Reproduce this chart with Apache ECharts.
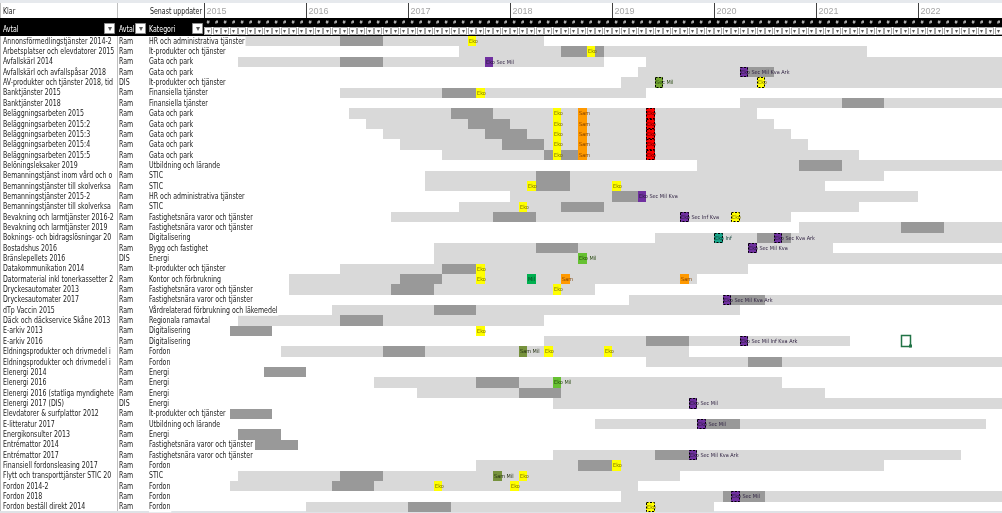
<!DOCTYPE html>
<html><head><meta charset="utf-8">
<script src="https://cdn.jsdelivr.net/npm/echarts@6/dist/echarts.min.js"></script>
<style>html,body{margin:0;padding:0;background:#fff;overflow:hidden}#c{width:1002px;height:513px}</style>
</head><body><div id="c"></div>
<script>
// ---------- table columns ----------
const avtal = [
'Annonsförmedlingstjänster 2014-2','Arbetsplatser och elevdatorer 2015','Avfallskärl 2014','Avfallskärl och avfallspåsar 2018',
'AV-produkter och tjänster 2018, tid','Banktjänster 2015','Banktjänster 2018','Beläggningsarbeten 2015','Beläggningsarbeten 2015:2',
'Beläggningsarbeten 2015:3','Beläggningsarbeten 2015:4','Beläggningsarbeten 2015:5','Belöningsleksaker 2019',
'Bemanningstjänst inom vård och omsorg','Bemanningstjänster till skolverksamhet','Bemanningstjänster 2015-2',
'Bemanningstjänster till skolverksamhet','Bevakning och larmtjänster 2016-2','Bevakning och larmtjänster 2019',
'Boknings- och bidragslösningar 2019','Bostadshus 2016','Bränslepellets 2016','Datakommunikation 2014',
'Datormaterial inkl tonerkassetter 2014','Dryckesautomater 2013','Dryckesautomater 2017','dTp Vaccin 2015',
'Däck och däckservice Skåne 2013','E-arkiv 2013','E-arkiv 2016','Eldningsprodukter och drivmedel i bulk',
'Eldningsprodukter och drivmedel i bulk','Elenergi 2014','Elenergi 2016','Elenergi 2016 (statliga myndigheter)',
'Elenergi 2017 (DIS)','Elevdatorer & surfplattor 2012','E-litteratur 2017','Energikonsulter 2013','Entrémattor 2014',
'Entrémattor 2017','Finansiell fordonsleasing 2017','Flytt och transporttjänster STIC 2014','Fordon 2014-2','Fordon 2018',
'Fordon beställ direkt 2014'];
const avtalstyp = ['Ram','Ram','Ram','Ram','DIS','Ram','Ram','Ram','Ram','Ram','Ram','Ram','Ram','Ram','Ram','Ram','Ram','Ram',
'Ram','Ram','Ram','DIS','Ram','Ram','Ram','Ram','Ram','Ram','Ram','Ram','Ram','Ram','Ram','Ram','Ram','DIS','Ram','Ram','Ram',
'Ram','Ram','Ram','Ram','Ram','Ram','Ram'];
const kategori = ['HR och administrativa tjänster','It-produkter och tjänster','Gata och park','Gata och park',
'It-produkter och tjänster','Finansiella tjänster','Finansiella tjänster','Gata och park','Gata och park','Gata och park',
'Gata och park','Gata och park','Utbildning och lärande','STIC','STIC','HR och administrativa tjänster','STIC',
'Fastighetsnära varor och tjänster','Fastighetsnära varor och tjänster','Digitalisering','Bygg och fastighet','Energi',
'It-produkter och tjänster','Kontor och förbrukning','Fastighetsnära varor och tjänster','Fastighetsnära varor och tjänster',
'Vårdrelaterad förbrukning och läkemedel','Regionala ramavtal','Digitalisering','Digitalisering','Fordon','Fordon','Energi',
'Energi','Energi','Energi','It-produkter och tjänster','Utbildning och lärande','Energi','Fastighetsnära varor och tjänster',
'Fastighetsnära varor och tjänster','Fordon','STIC','Fordon','Fordon','Fordon'];
const years = ['2015','2016','2017','2018','2019','2020','2021','2022'];

// ---------- periods: [rowNo, startMonth, endMonth(exclusive)], months counted from Jan 2015 ----------
const lightBars = [
[1,4,40],[2,30,78],[3,4,47],[3,52,96],[4,51,96],[5,49,96],[6,16,52],[7,63,96],[8,17,65],[9,19,67],[10,21,69],[11,23,71],
[12,28,77],[13,58,96],[14,26,80],[15,26,73],[16,36,84],[17,30,77],[18,22,69],[19,70,96],[20,53,96],[21,27,74],[22,27,96],
[23,16,64],[24,10,58],[25,10,46],[26,50,96],[27,15,63],[28,4,40],[30,40,76],[31,9,57],[32,52,96],[34,20,68],[35,25,73],
[36,41,96],[38,46,92],[41,41,89],[42,32,80],[43,4,56],[44,3,51],[45,49,96],[46,12,60]];
const darkBars = [
[1,16,21],[2,42,47],[3,16,21],[4,64,67],[6,28,32],[7,75,80],[8,29,34],[9,31,36],[10,33,38],[11,35,40],[12,40,45],
[13,70,75],[14,39,43],[15,39,43],[16,48,51],[17,42,47],[18,34,39],[19,82,87],[20,65,69],[21,39,44],[23,28,32],[24,23,28],
[25,22,27],[26,62,66],[27,27,32],[28,16,21],[29,3,8],[30,52,57],[31,21,26],[32,64,68],[33,7,12],[34,32,37],[35,37,42],
[37,3,8],[38,59,63],[39,4,9],[40,6,11],[41,53,57],[42,44,48],[43,16,21],[44,15,20],[45,61,66],[46,24,29]];
// ---------- markers: [rowNo, month, kind, label, dashedBorder] ----------
const markers = [
[1,31,'Y','Eko',0],[2,45,'Y','Eko',0],[3,33,'P','Eko Sec Mil',0],[4,63,'P','Eko Sec Mil Kva Ark',1],
[5,53,'GB','Sec Mil',1],[5,65,'Y','Eko',1],[6,32,'Y','Eko',0],
[8,41,'Y','Eko',0],[8,44,'O','Sam',0],[8,52,'R','Eko',1],
[9,41,'Y','Eko',0],[9,44,'O','Sam',0],[9,52,'R','Eko',1],
[10,41,'Y','Eko',0],[10,44,'O','Sam',0],[10,52,'R','Eko',1],
[11,41,'Y','Eko',0],[11,44,'O','Sam',0],[11,52,'R','Eko',1],
[12,41,'Y','Eko',0],[12,44,'O','Sam',0],[12,52,'R','Eko',1],
[15,38,'Y','Eko',0],[15,48,'Y','Eko',0],[16,51,'P','Eko Sec Mil Kva',0],[17,37,'Y','Eko',0],
[18,56,'P','Eko Sec Inf Kva',1],[18,62,'Y','Eko',1],[20,60,'T','Eko Inf',1],[20,67,'P','Eko Sec Kva Ark',1],
[21,64,'P','Eko Sec Mil Kva',1],[22,44,'LG','Eko Mil',0],[23,32,'Y','Eko',0],
[24,32,'Y','Eko',0],[24,38,'G','Mil',0],[24,42,'O','Sam',0],[24,56,'O','Sam',0],[25,41,'Y','Eko',0],
[26,61,'P','Eko Sec Mil Kva Ark',1],[29,32,'Y','Eko',0],[30,63,'P','Eko Sec Mil Inf Kva Ark',1],[30,82,'SEL','',0],
[31,37,'OL','Sam Mil',0],[31,40,'Y','Eko',0],[31,47,'Y','Eko',0],[34,41,'LG','Eko Mil',0],
[36,57,'P','Eko Sec Mil',1],[38,58,'P','Eko Sec Mil',1],[41,57,'P','Eko Sec Mil Kva Ark',1],[42,48,'Y','Eko',0],
[43,34,'OL','Sam Mil',0],[43,37,'Y','Eko',0],[44,27,'Y','Eko',0],[44,36,'Y','Eko',0],
[45,62,'P','Eko Sec Mil',1],[46,52,'Y','Eko',1]];

// ---------- styling ----------
const FN = '"Liberation Sans Narrow","Arial Narrow","DejaVu Sans Condensed",sans-serif';
const FW = '"Liberation Sans",Arial,sans-serif';
const SX = 0.87; // horizontal squeeze of the table font
const kindFill = {Y:'#ffff00',O:'#ff9900',R:'#ff0000',P:'#7030a0',G:'#00b050',LG:'#66c132',GB:'#76a832',OL:'#76923c',T:'#1aa58a'};
const kindText = {Y:'#7f7400',O:'#7f3f00',R:'#600000',P:'#2b1d3d',G:'#0b3d20',LG:'#27480f',GB:'#27480f',OL:'#222e10',T:'#083f34'};
const GRID_L = 204, GRID_T = 36, GRID_H = 476, MONTH_PX = 8.5;
const VISIBLE_MONTHS = (1002 - GRID_L) / MONTH_PX;

function cellBox(api, s, e, row){
  const p0 = api.coord([s,row]), p1 = api.coord([e,row]);
  const h = api.size([0,1])[1];
  const y0 = Math.round(p0[1]-h/2), y1 = Math.round(p0[1]+h/2);
  const x0 = Math.round(p0[0]), x1 = Math.round(p1[0]);
  return {x0,x1,y0,y1};
}
function barRender(color){
  return function(params, api){
    const b = cellBox(api, api.value(1), api.value(2), api.value(0));
    return {type:'rect', shape:{x:b.x0,y:b.y0,width:b.x1-b.x0,height:b.y1-b.y0}, style:{fill:color}};
  };
}
function markerRender(params, api){
  const mk = markers[params.dataIndex];
  const kind = mk[2], label = mk[3], bord = mk[4];
  const m = api.value(1);
  const b = cellBox(api, m, m+1, api.value(0));
  const w = b.x1-b.x0, h = b.y1-b.y0;
  if (kind === 'SEL') {
    return {type:'group', children:[
      {type:'rect', shape:{x:b.x0+0.5,y:b.y0-0.5,width:w,height:h+1}, style:{fill:'none',stroke:'#217346',lineWidth:1.5}},
      {type:'rect', shape:{x:b.x1-1,y:b.y1-1.5,width:3,height:3}, style:{fill:'#217346'}}]};
  }
  const ch = [{type:'rect', shape:{x:b.x0,y:b.y0,width:w,height:h}, style:{fill:kindFill[kind]}}];
  if (bord) ch.push({type:'rect', shape:{x:b.x0+0.5,y:b.y0+0.5,width:w-1,height:h-1},
                     style:{fill:'none',stroke:'#000',lineWidth:1,lineDash:[2,1.5]}});
  if (label) ch.push({type:'text', x:b.x0+1, y:(b.y0+b.y1)/2+0.5,
                      style:{text:label, fill:kindText[kind], font:'5.5px '+FN, verticalAlign:'middle', align:'left'}});
  return {type:'group', children:ch};
}
function tableRender(params, api){
  const i = api.value(1);
  const y = api.coord([0,i])[1] + 0.5;
  const x = (px) => api.coord([px,i])[0];
  const st = {fill:'#1a1a1a', font:'8px '+FN, verticalAlign:'middle', align:'left'};
  return {type:'group', children:[
    {type:'text', x:x(3), y:y, scaleX:SX, style:Object.assign({}, st, {text:avtal[i], width:113/SX, overflow:'truncate', ellipsis:''})},
    {type:'text', x:x(119), y:y, scaleX:SX, style:Object.assign({}, st, {text:avtalstyp[i], width:27/SX, overflow:'truncate', ellipsis:''})},
    {type:'text', x:x(149), y:y, scaleX:SX, style:Object.assign({}, st, {text:kategori[i], backgroundColor:'#fff', padding:[1,1,1,0]})}
  ]};
}
function monthHeadRender(params, api){
  const m = api.value(0);
  const x0 = api.coord([m,0])[0], x1 = api.coord([m+1,0])[0];
  const cx = (x0+x1)/2;
  return {type:'group', children:[
    {type:'text', x:cx, y:22.5, style:{text:'#', fill:'#fff', font:'5px '+FW, align:'center', verticalAlign:'middle'}},
    {type:'rect', shape:{x:Math.round(x0)+0.5,y:27.5,width:7,height:7}, style:{fill:'#fff',stroke:'#a6a6a6',lineWidth:1}},
    {type:'text', x:cx, y:31.5, style:{text:'▾', fill:'#595959', font:'6px '+FW, align:'center', verticalAlign:'middle'}}
  ]};
}
function yearRender(params, api){
  const x = Math.round(api.coord([api.value(0),0])[0]) + 0.5;
  return {type:'group', children:[
    {type:'line', shape:{x1:x,y1:3,x2:x,y2:18}, style:{stroke:'#404040',lineWidth:1}},
    {type:'text', x:x+2, y:11.5, style:{text:years[params.dataIndex], fill:'#a6a6a6', font:'9px '+FW, verticalAlign:'middle'}}
  ]};
}
function dropBtn(x){
  return [{type:'rect', shape:{x:x+0.5,y:23.5,width:10,height:10}, style:{fill:'#fff',stroke:'#8c8c8c'}, z:2},
          {type:'text', x:x+5.5, y:29, style:{text:'▾', fill:'#595959', font:'8px '+FW, align:'center', verticalAlign:'middle'}, z:2}];
}
function headText(x, y, text, color, width){
  const st = {text:text, fill:color, font:'8px '+FN, verticalAlign:'middle'};
  if (width) Object.assign(st, {width:width/SX, overflow:'truncate', ellipsis:''});
  return {type:'text', x:x, y:y, scaleX:SX, style:st, z:1};
}

const chart = echarts.init(document.getElementById('c'), null, {renderer:'canvas'});
chart.setOption({
  animation:false,
  grid:[{left:GRID_L, top:GRID_T, width:1002-GRID_L, height:GRID_H},
        {left:0, top:GRID_T, width:GRID_L, height:GRID_H}],
  xAxis:[{type:'value', gridIndex:0, min:0, max:VISIBLE_MONTHS, show:false},
         {type:'value', gridIndex:1, min:0, max:GRID_L, show:false}],
  yAxis:[{type:'value', gridIndex:0, min:-0.5, max:avtal.length-0.5, inverse:true, show:false},
         {type:'value', gridIndex:1, min:-0.5, max:avtal.length-0.5, inverse:true, show:false}],
  graphic:[
    {type:'rect', shape:{x:0,y:0,width:1002,height:3}, style:{fill:'#e6e9ed'}, z:0},
    {type:'line', shape:{x1:117.5,y1:3,x2:117.5,y2:512}, style:{stroke:'#bfbfbf'}, z:0},
    {type:'line', shape:{x1:0.5,y1:3,x2:0.5,y2:512}, style:{stroke:'#bfbfbf'}, z:0},
    {type:'rect', shape:{x:0,y:18,width:1002,height:18}, style:{fill:'#000'}, z:0},
    {type:'rect', shape:{x:GRID_L,y:27,width:1002-GRID_L,height:8}, style:{fill:'#fff'}, z:0},
    {type:'rect', shape:{x:0,y:511,width:1002,height:2}, style:{fill:'#dfe2e6'}, z:0},
    headText(3, 11.5, 'Klar', '#1a1a1a'),
    headText(150, 11.5, 'Senast uppdaterad', '#1a1a1a', 54),
    headText(3, 30, 'Avtal', '#fff'),
    headText(119, 30, 'Avtalstyp', '#fff', 17),
    headText(149, 30, 'Kategori', '#fff')
  ].concat(dropBtn(104), dropBtn(135), dropBtn(192)),
  series:[
    {type:'custom', xAxisIndex:0, yAxisIndex:0, z:1, clip:true, renderItem:barRender('#d9d9d9'),
     data:lightBars.map(b=>[b[0]-1,b[1],b[2]]), encode:{x:[1,2], y:0}},
    {type:'custom', xAxisIndex:0, yAxisIndex:0, z:2, clip:true, renderItem:barRender('#999999'),
     data:darkBars.map(b=>[b[0]-1,b[1],b[2]]), encode:{x:[1,2], y:0}},
    {type:'custom', xAxisIndex:0, yAxisIndex:0, z:3, renderItem:markerRender,
     data:markers.map(m=>[m[0]-1,m[1]]), encode:{x:1, y:0}},
    {type:'custom', xAxisIndex:1, yAxisIndex:1, z:4, renderItem:tableRender,
     data:avtal.map((_,i)=>[0,i]), encode:{x:0, y:1}},
    {type:'custom', xAxisIndex:0, yAxisIndex:0, z:5, renderItem:monthHeadRender,
     data:Array.from({length:Math.ceil(VISIBLE_MONTHS)}, (_,m)=>[m,0]), encode:{x:0, y:1}},
    {type:'custom', xAxisIndex:0, yAxisIndex:0, z:5, renderItem:yearRender,
     data:years.map(y=>[(+y-2015)*12,0]), encode:{x:0, y:1}}
  ]
});
</script></body></html>
